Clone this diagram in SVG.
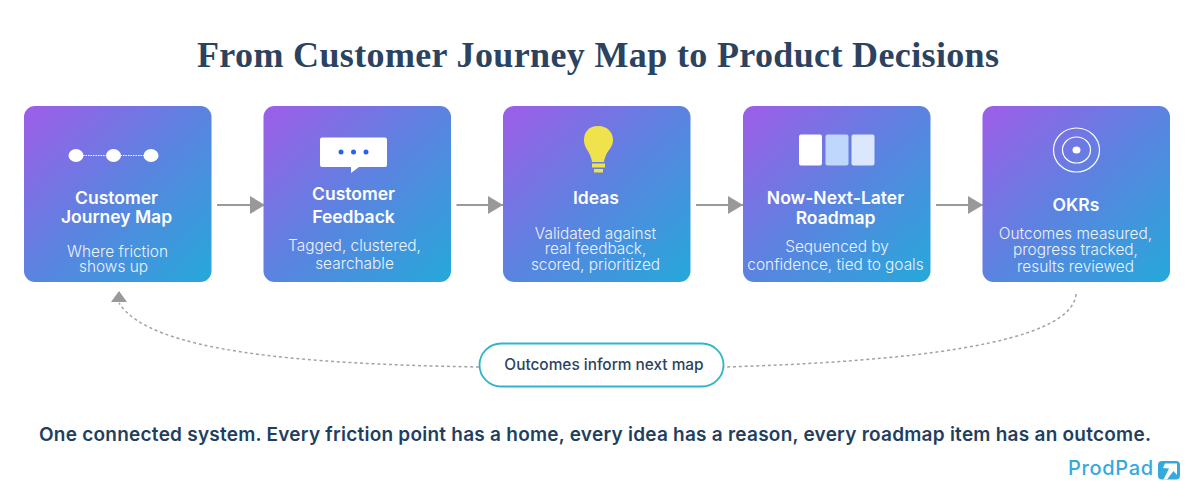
<svg xmlns="http://www.w3.org/2000/svg" width="1200" height="498" viewBox="0 0 1200 498">
<defs>
<linearGradient id="g" x1="0" y1="0" x2="1" y2="1">
<stop offset="0" stop-color="#9a5fe8"/><stop offset=".08" stop-color="#9563e7"/><stop offset=".5" stop-color="#5b83e0"/><stop offset="1" stop-color="#25a9d9"/>
</linearGradient>
<marker id="a" markerUnits="userSpaceOnUse" markerWidth="16" markerHeight="18" refX="15" refY="9" orient="auto"><path d="M0 0L15 9L0 18Z" fill="#999"/></marker>
</defs>
<style>
text{font-family:Inter,"Noto Sans",sans-serif;text-anchor:middle}
.t{font-size:17.500px;font-weight:600;fill:#fff}
.d{font-size:15.400px;font-weight:300;fill:#eef2fd}
.card{fill:url(#g)}
.arrow{stroke:#999;stroke-width:2;fill:none;marker-end:url(#a)}
.loop{fill:none;stroke:#a3a3a3;stroke-width:1.500;stroke-dasharray:3 2.800}
</style>
<rect width="1200" height="498" fill="#fff"/>
<text x="598" y="67" style="font-family:'Liberation Serif',serif;font-size:36px;font-weight:700" fill="#2b4360" textLength="802" lengthAdjust="spacing">From Customer Journey Map to Product Decisions</text>
<g id="connectors">
<path class="arrow" d="M217 205H265"/>
<path class="arrow" d="M456.500 205H503"/>
<path class="arrow" d="M696 205H743"/>
<path class="arrow" d="M936 205H983"/>
<path class="loop" d="M1076 294C1072 345 900 362 724 367"/>
<path class="loop" d="M479 367C300 364 150 352 119 303"/>
<path d="M119 291L127 302H111Z" fill="#999"/>
</g>
<g id="node-journey">
<rect class="card" x="24" y="106" width="187.500" height="176" rx="11"/>
<path d="M83 155.500H150" stroke="#fff" stroke-width="1" stroke-dasharray="1.500 1"/>
<ellipse cx="76" cy="155.500" rx="7.500" ry="6.500" fill="#fff"/><ellipse cx="113.500" cy="155.500" rx="7.500" ry="6.500" fill="#fff"/><ellipse cx="151" cy="155.500" rx="7.500" ry="6.500" fill="#fff"/>
<text class="t" x="116.500" y="204">Customer</text><text class="t" x="116.500" y="223">Journey Map</text>
<text class="d" x="117.500" y="257">Where friction</text><text class="d" x="113.500" y="272">shows up</text>
</g>
<g id="node-feedback">
<rect class="card" x="263.500" y="106" width="187.500" height="176" rx="11"/>
<path d="M322 137.500H385a2 2 0 0 1 2 2V165a2 2 0 0 1-2 2H359L351 173V167H322a2 2 0 0 1-2-2V139.500a2 2 0 0 1 2-2Z" fill="#fff"/>
<circle cx="341" cy="152" r="2.500" fill="#2563eb"/><circle cx="353.500" cy="152" r="2.500" fill="#2563eb"/><circle cx="366" cy="152" r="2.500" fill="#2563eb"/>
<text class="t" x="353.500" y="200">Customer</text><text class="t" x="353.500" y="223">Feedback</text>
<text class="d" x="354.500" y="251">Tagged, clustered,</text><text class="d" x="354.500" y="269">searchable</text>
</g>
<g id="node-ideas">
<rect class="card" x="503" y="106" width="187.500" height="176" rx="11"/>
<path d="M598 126C588 126 584 133 584 140C584 147 588 150 590 155C591 158 592 160 592 162H604C604 160 605 158 606 155C608 150 613 147 613 140C613 133 608 126 598 126Z" fill="#f0e24d"/>
<rect x="592" y="163.500" width="13" height="4" fill="#f0e24d"/><rect x="594" y="169" width="9" height="3.500" fill="#f0e24d"/>
<text class="t" x="596" y="204">Ideas</text>
<text class="d" x="595.500" y="239">Validated against</text><text class="d" x="595.500" y="254">real feedback,</text><text class="d" x="595.500" y="270">scored, prioritized</text>
</g>
<g id="node-roadmap">
<rect class="card" x="743" y="106" width="187.500" height="176" rx="11"/>
<rect x="799" y="134.500" width="23" height="31" rx="2" fill="#fff"/><rect x="825.500" y="134.500" width="23" height="31" rx="2" fill="#bfd7fd"/><rect x="851.500" y="134.500" width="23" height="31" rx="2" fill="#dbe7fc"/>
<text class="t" x="835.500" y="204">Now-Next-Later</text><text class="t" x="835.500" y="224">Roadmap</text>
<text class="d" x="837" y="252">Sequenced by</text><text class="d" x="835.500" y="270">confidence, tied to goals</text>
</g>
<g id="node-okrs">
<rect class="card" x="982.500" y="106" width="187.500" height="176" rx="11"/>
<g fill="none" stroke="#fff" stroke-width="1.200"><ellipse cx="1076.500" cy="150" rx="23" ry="22"/><ellipse cx="1076.500" cy="150" rx="14" ry="13"/></g>
<ellipse cx="1076.500" cy="150" rx="4" ry="3.600" fill="#fff"/>
<text class="t" x="1076" y="211">OKRs</text>
<text class="d" x="1075.500" y="239">Outcomes measured,</text><text class="d" x="1075.500" y="255">progress tracked,</text><text class="d" x="1075.500" y="272">results reviewed</text>
</g>
<g id="node-outcomes">
<rect x="479.500" y="343.500" width="244" height="43" rx="21.500" fill="#fff" stroke="#2fb5c9" stroke-width="1.800"/>
<text x="604" y="370" font-size="15.400" font-weight="500" fill="#2b4360">Outcomes inform next map</text>
</g>
<text x="595" y="441" font-size="19" font-weight="600" fill="#1f3f5f" textLength="1112" lengthAdjust="spacing">One connected system. Every friction point has a home, every idea has a reason, every roadmap item has an outcome.</text>
<g id="logo">
<text x="1110.500" y="475" font-size="20" font-weight="500" fill="#34a9dc" textLength="85" lengthAdjust="spacing">ProdPad</text>
<rect x="1158" y="461" width="22" height="18.500" rx="4" fill="#34a9dc"/>
<path d="M1165 463.500H1177V475L1173.500 471L1167 479.500H1163.500L1169 468.500L1163 468Z" fill="#fff"/>
</g>
</svg>
